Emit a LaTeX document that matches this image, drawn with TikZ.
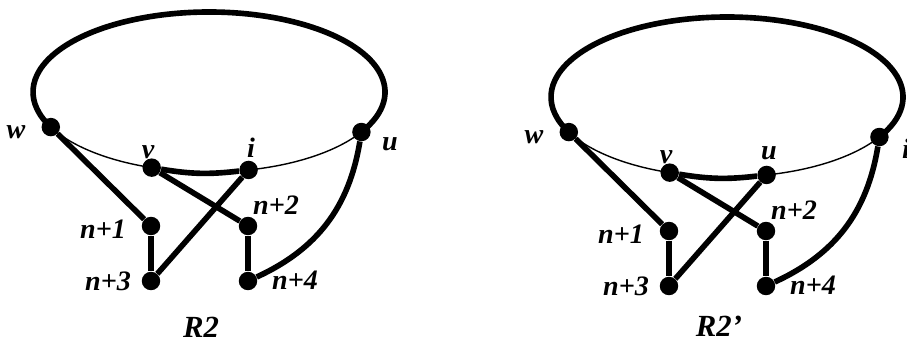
\documentclass[tikz,border=0pt]{standalone}
\usepackage{fontspec}
\setmainfont{Liberation Serif}
\usetikzlibrary{positioning,calc}

\begin{document}
\begin{tikzpicture}[
  x=0.02cm, y=0.02cm,
  dot/.style={circle, fill=black, inner sep=0pt, minimum size=10.5pt},
  lbl/.style={font=\fontsize{16}{18}\selectfont\bfseries\itshape, inner sep=0pt},
  figname/.style={font=\fontsize{17.5}{20}\selectfont\bfseries\itshape, inner sep=0pt},
  heavy/.style={line width=3.2pt},
  light/.style={line width=0.8pt}
]
\useasboundingbox (0,0) rectangle (907,343);

% R2
\begin{scope}[shift={(209,251)}]
  \node[dot] (wL) at (206:176 and 80) {};
  \node[dot] (vL) at (251:176 and 80) {};
  \node[dot] (iL) at (283:176 and 80) {};
  \node[dot] (uL) at (330:176 and 80) {};
  \node[dot] (p1L) at (-58,-134) {};
  \node[dot] (p2L) at (39,-134) {};
  \node[dot] (p3L) at (-58,-189) {};
  \node[dot] (p4L) at (39,-189) {};

  \draw[heavy] (uL.center) arc[start angle=-30, end angle=206, x radius=176, y radius=80];
  \draw[light] (wL.center) arc[start angle=206, end angle=251, x radius=176, y radius=80];
  \draw[light] (iL.center) arc[start angle=283, end angle=330, x radius=176, y radius=80];
  \draw[heavy] (vL) to[bend right=8] (iL);
  \draw[heavy] (wL) -- (p1L);
  \draw[heavy] (p1L) -- (p3L);
  \draw[heavy] (p3L) -- (iL);
  \draw[heavy] (vL) -- (p2L);
  \draw[heavy] (p2L) -- (p4L);
  \draw[heavy] (p4L) to[bend right=28] (uL);

  \node[lbl] at (-193,-40) {w};
  \node[lbl] at (-61,-60) {v};
  \node[lbl] at (42,-56) {i};
  \node[lbl] at (181,-52) {u};
  \node[lbl] at (-106,-137) {n+1};
  \node[lbl] at (67,-113) {n+2};
  \node[lbl] at (-101,-189) {n+3};
  \node[lbl] at (86,-188) {n+4};
  \node[figname] (capL) at (-8,-235) {R2};
\end{scope}

% R2'
\begin{scope}[shift={(727,246)}]
  \node[dot] (wR) at (206:176 and 80) {};
  \node[dot] (vR) at (251:176 and 80) {};
  \node[dot] (uR) at (283:176 and 80) {};
  \node[dot] (iR) at (330:176 and 80) {};
  \node[dot] (p1R) at (-58,-134) {};
  \node[dot] (p2R) at (39,-134) {};
  \node[dot] (p3R) at (-58,-189) {};
  \node[dot] (p4R) at (39,-189) {};

  \draw[heavy] (iR.center) arc[start angle=-30, end angle=206, x radius=176, y radius=80];
  \draw[light] (wR.center) arc[start angle=206, end angle=251, x radius=176, y radius=80];
  \draw[light] (uR.center) arc[start angle=283, end angle=330, x radius=176, y radius=80];
  \draw[heavy] (vR) to[bend right=8] (uR);
  \draw[heavy] (wR) -- (p1R);
  \draw[heavy] (p1R) -- (p3R);
  \draw[heavy] (p3R) -- (uR);
  \draw[heavy] (vR) -- (p2R);
  \draw[heavy] (p2R) -- (p4R);
  \draw[heavy] (p4R) to[bend right=28] (iR);

  \node[lbl] at (-193,-40) {w};
  \node[lbl] at (-61,-60) {v};
  \node[lbl] at (42,-56) {u};
  \node[lbl] at (179,-52) {i};
  \node[lbl] at (-106,-137) {n+1};
  \node[lbl] at (67,-113) {n+2};
  \node[lbl] at (-101,-189) {n+3};
  \node[lbl] at (86,-188) {n+4};
  \node[figname] (capR) at (-8,-229) {R2'};
\end{scope}
\end{tikzpicture}
\end{document}
